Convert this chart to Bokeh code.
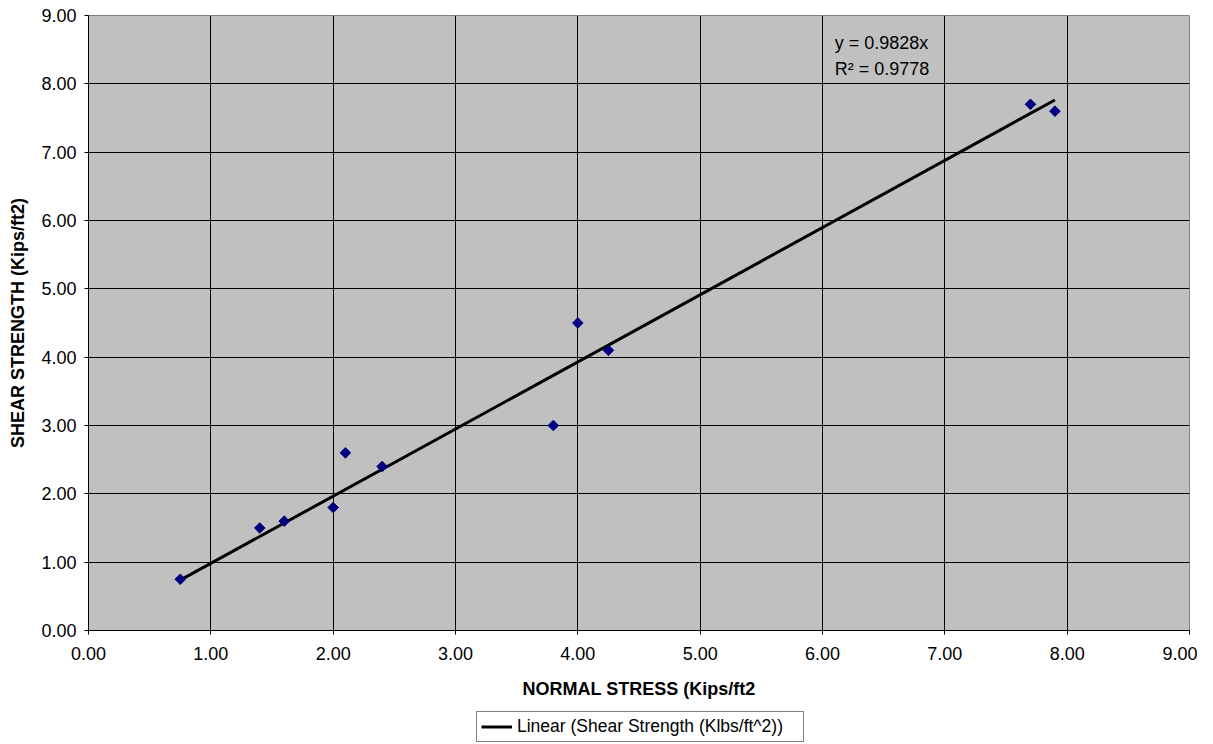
import math
from bokeh.plotting import figure
from bokeh.layouts import column
from bokeh.models import (FixedTicker, NumeralTickFormatter, Label, Legend, LegendItem,
                          ColumnDataSource, Range1d)
from bokeh.embed import file_html
from bokeh.resources import INLINE

# ---- data ----
normal_stress = [0.75, 1.40, 1.60, 2.00, 2.10, 2.40, 3.80, 4.00, 4.25, 7.70, 7.90]
shear_strength = [0.75, 1.50, 1.60, 1.80, 2.60, 2.40, 3.00, 4.50, 4.10, 7.70, 7.60]
trend_slope = 0.9828
r_squared = 0.9778
tick_values = [0, 1, 2, 3, 4, 5, 6, 7, 8, 9]
x_title = "NORMAL STRESS (Kips/ft2"
y_title = "SHEAR STRENGTH (Kips/ft2)"
legend_label = "Linear (Shear Strength (Klbs/ft^2))"

FONT = "Liberation Sans"

p = figure(width=1197, height=708, output_backend="svg", toolbar_location=None,
           x_range=Range1d(0, 9), y_range=Range1d(0, 9),
           min_border_left=88, min_border_right=8, min_border_top=15, min_border_bottom=78)

p.background_fill_color = "#C0C0C0"
p.border_fill_color = "white"
p.outline_line_color = "#808080"
p.outline_line_width = 1

for g in (p.xgrid, p.ygrid):
    g.grid_line_color = "black"
    g.grid_line_width = 1
    g.ticker = FixedTicker(ticks=tick_values)

for ax in (p.xaxis, p.yaxis):
    ax.ticker = FixedTicker(ticks=tick_values)
    ax.formatter = NumeralTickFormatter(format="0.00")
    ax.axis_line_color = "black"
    ax.axis_line_width = 1
    ax.major_tick_line_color = "black"
    ax.major_tick_in = 0
    ax.major_tick_out = 4
    ax.minor_tick_line_color = None
    ax.major_label_text_font = FONT
    ax.major_label_text_font_size = "18px"
    ax.major_label_text_color = "black"
    ax.axis_label_text_font = FONT
    ax.axis_label_text_font_size = "18px"
    ax.axis_label_text_font_style = "bold"
    ax.axis_label_text_color = "black"

p.xaxis.axis_label = x_title
p.yaxis.axis_label = y_title
p.xaxis.major_label_standoff = 12
p.xaxis.axis_label_standoff = 16
p.yaxis.major_label_standoff = 8
p.yaxis.axis_label_standoff = 10

# trendline
tx = [min(normal_stress), max(normal_stress)]
ty = [trend_slope * v for v in tx]
p.line(tx, ty, line_color="black", line_width=3)

# data points (diamonds)
src = ColumnDataSource(dict(x=normal_stress, y=shear_strength))
p.scatter("x", "y", source=src, marker="square", angle=math.pi / 4, size=7.5,
          fill_color="#000080", line_color="#000080")

# equation annotation
p.add_layout(Label(x=6.10, y=8.60, text=f"y = {trend_slope}x", text_font=FONT,
                   text_font_size="18px", text_baseline="middle", text_color="black"))
p.add_layout(Label(x=6.10, y=8.22, text=f"R\u00b2 = {r_squared}", text_font=FONT,
                   text_font_size="18px", text_baseline="middle", text_color="black"))

# legend strip below the chart (same horizontal frame as the chart);
# its range is chosen so the proxy trendline itself stays out of view
p2 = figure(width=1197, height=34, output_backend="svg", toolbar_location=None,
            x_range=Range1d(100, 101), y_range=Range1d(100, 101),
            x_axis_type=None, y_axis_type=None,
            min_border_left=88, min_border_right=8, min_border_top=0, min_border_bottom=0)
p2.grid.visible = False
p2.outline_line_color = None
p2.background_fill_color = "white"
p2.border_fill_color = "white"
legend_line = p2.line(tx, ty, line_color="black", line_width=3)

legend = Legend(items=[LegendItem(label=legend_label, renderers=[legend_line])],
                location=(388, 0), orientation="vertical",
                border_line_color="black", border_line_width=1,
                background_fill_color="white", background_fill_alpha=1,
                label_text_font=FONT, label_text_font_size="17.5px",
                label_text_color="black", label_standoff=5,
                glyph_width=31, glyph_height=19, label_height=19, label_width=282,
                padding=4, spacing=0, margin=0)
p2.add_layout(legend, "center")

layout = column(p, p2, spacing=0)
open("out.html", "w").write(file_html(layout, INLINE))
